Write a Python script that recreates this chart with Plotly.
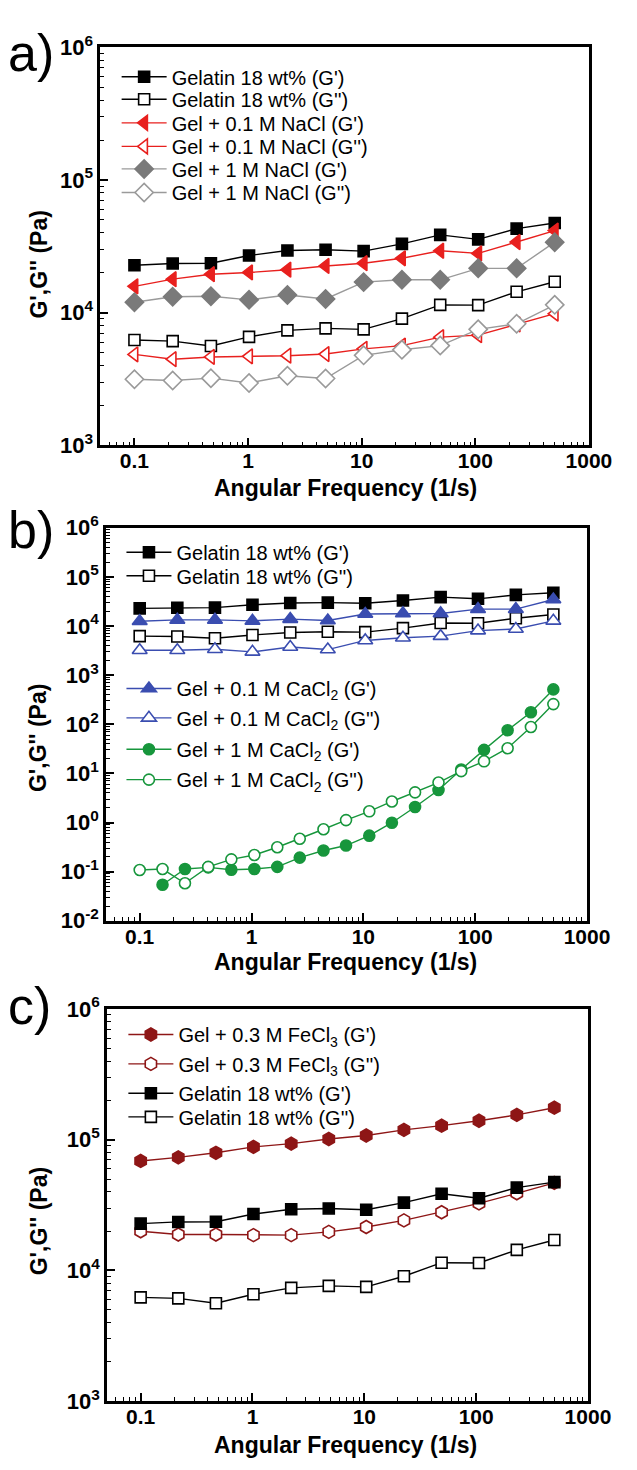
import plotly.graph_objects as go

# ---------------- data ----------------
freq = [0.1, 0.217, 0.471, 1.02, 2.22, 4.81, 10.4, 22.6, 49.1, 106, 231, 500]
freq_ca1 = [0.1, 0.16, 0.254, 0.41, 0.66, 1.06, 1.7, 2.7, 4.4, 7.0, 11.3, 18, 29, 47,
            75, 120, 195, 315, 500]

gel_Gp = [22800, 23500, 23600, 27000, 29400, 29800, 29100, 33000, 38600, 35700, 43000, 47400]
gel_Gpp = [6220, 6110, 5610, 6570, 7360, 7620, 7490, 9030, 11460, 11400, 14370, 17100]
nacl01_Gp = [15800, 17900, 19500, 20100, 21100, 22500, 23600, 25700, 29300, 28000, 34100, 41600]
nacl01_Gpp = [4850, 4460, 4640, 4690, 4740, 4880, 5340, 5650, 6540, 6770, 8160, 9840]
nacl1_Gp = [12000, 13200, 13300, 12500, 13600, 12700, 17000, 17700, 17700, 21600, 21600, 34000]
nacl1_Gpp = [3150, 3080, 3210, 2950, 3350, 3190, 4770, 5250, 5650, 7490, 8250, 11460]
cacl01_Gp = [12500, 13300, 13300, 12700, 13800, 12900, 17500, 18000, 18000, 22000, 22000, 34500]
cacl01_Gpp = [3210, 3210, 3360, 2970, 3740, 3310, 5080, 5740, 6200, 8050, 8700, 12700]
cacl1_Gp = [0.054, 0.113, 0.122, 0.109, 0.113, 0.125, 0.193, 0.27, 0.34, 0.54, 0.99, 2.07,
            4.58, 12.0, 30.1, 75.5, 175, 512]
cacl1_Gpp = [0.108, 0.113, 0.058, 0.125, 0.178, 0.218, 0.314, 0.468, 0.73, 1.12, 1.69, 2.68,
             4.11, 6.51, 11.1, 17.6, 32.5, 88, 257]
fecl_Gp = [68800, 73300, 79400, 88100, 93300, 101200, 107800, 118900, 128100, 139600, 154900, 175800]
fecl_Gpp = [19950, 18840, 18840, 18620, 18620, 19720, 21500, 24130, 27860, 32550, 38900, 46800]

x_tickvals = [0.1, 1, 10, 100, 1000]
x_ticktext = ["0.1", "1", "10", "100", "1000"]

# ---------------- styling ----------------
W, H = 637, 1470
FONT = "Liberation Sans"
BLACK = "#000000"
RED = "#e8201e"
GRAY_F = "#7a7a7a"
GRAY_O = "#9a9a9a"
BLUE = "#3a4db0"
GREEN = "#17963c"
DRED = "#8e1616"


def px_x(p):
    return p / W


def px_y(p):
    return 1 - p / H


fig = go.Figure()
legends = {}
ITEMW = 45
LEGFONT = dict(family=FONT, size=20, color="black")


def add(x, y, name, color, symbol, filled, xa, ya, leg_x, leg_y, size=11, lcolor=None):
    lc = lcolor or color
    n = len(legends) + 1
    key = "legend" if n == 1 else "legend%d" % n
    legends[key] = dict(
        x=px_x(leg_x - ITEMW - 10), y=px_y(leg_y), xanchor="left", yanchor="middle",
        bgcolor="rgba(0,0,0,0)", borderwidth=0, font=LEGFONT,
        itemwidth=ITEMW, visible=True,
    )
    fig.add_trace(go.Scatter(
        x=x, y=y, name=name, mode="lines+markers", showlegend=True,
        xaxis=xa, yaxis=ya, legend=key,
        line=dict(color=lc, width=1.4),
        marker=dict(symbol=symbol, size=size,
                    color=color if filled else "white",
                    line=dict(color=color, width=1.6)),
    ))


GP = "Gelatin 18 wt% (G')"
GPP = "Gelatin 18 wt% (G'')"

# panel a (legend text starts at x=176)
add(freq, gel_Gp, GP, BLACK, "square", True, "x", "y", 176, 62, 11)
add(freq, gel_Gpp, GPP, BLACK, "square", False, "x", "y", 176, 85, 11)
add(freq, nacl01_Gp, "Gel + 0.1 M NaCl (G')", RED, "triangle-left", True, "x", "y", 176, 109, 13)
add(freq, nacl01_Gpp, "Gel + 0.1 M NaCl (G'')", RED, "triangle-left", False, "x", "y", 176, 133, 13)
add(freq, nacl1_Gp, "Gel + 1 M NaCl (G')", GRAY_F, "diamond", True, "x", "y", 176, 156, 14, GRAY_O)
add(freq, nacl1_Gpp, "Gel + 1 M NaCl (G'')", GRAY_O, "diamond", False, "x", "y", 176, 180, 14)

# panel b
add(freq, gel_Gp, GP, BLACK, "square", True, "x2", "y2", 181, 547, 11)
add(freq, gel_Gpp, GPP, BLACK, "square", False, "x2", "y2", 181, 571, 11)
add(freq, cacl01_Gp, "Gel + 0.1 M CaCl<sub>2</sub> (G')", BLUE, "triangle-up", True, "x2", "y2", 181, 686, 13)
add(freq, cacl01_Gpp, "Gel + 0.1 M CaCl<sub>2</sub> (G'')", BLUE, "triangle-up", False, "x2", "y2", 181, 716, 13)
add(freq_ca1[1:], cacl1_Gp, "Gel + 1 M CaCl<sub>2</sub> (G')", GREEN, "circle", True, "x2", "y2", 181, 748, 11)
add(freq_ca1, cacl1_Gpp, "Gel + 1 M CaCl<sub>2</sub> (G'')", GREEN, "circle", False, "x2", "y2", 181, 779, 11)

# panel c
add(freq, fecl_Gp, "Gel + 0.3 M FeCl<sub>3</sub> (G')", DRED, "hexagon", True, "x3", "y3", 183, 1039, 13)
add(freq, fecl_Gpp, "Gel + 0.3 M FeCl<sub>3</sub> (G'')", DRED, "hexagon", False, "x3", "y3", 183, 1069, 13)
add(freq, gel_Gp, GP, BLACK, "square", True, "x3", "y3", 183, 1099, 11)
add(freq, gel_Gpp, GPP, BLACK, "square", False, "x3", "y3", 183, 1123, 11)

panels = [
    # (x0, x1, ytop, ybottom, ymin_exp, ymax_exp)
    (104, 611, 32, 438, 3, 6),
    (110, 609, 522, 923, -2, 6),
    (111, 610, 1013, 1413, 3, 6),
]

x_minor = [m * 10 ** e for e in range(-2, 3) for m in range(2, 10)]

xtickfont = dict(family=FONT, size=21, color="black", weight="bold")
ytickfont = dict(family=FONT, size=22, color="black", weight="bold")
layout = dict(
    width=W, height=H, margin=dict(l=0, r=0, t=0, b=0),
    paper_bgcolor="white", plot_bgcolor="white", showlegend=True,
    font=dict(family=FONT, color="black"),
)

for i, (x0, x1, yt, yb, e0, e1) in enumerate(panels):
    sfx = "" if i == 0 else str(i + 1)
    layout["xaxis" + sfx] = dict(
        type="log", domain=[px_x(x0), px_x(x1)], range=[-1.301, 3.0],
        anchor="y" + sfx, showgrid=False, zeroline=False,
        showline=True, linecolor="black", linewidth=2.5, mirror=True,
        ticks="inside", ticklen=8, tickwidth=1.6, tickcolor="black",
        tickvals=x_tickvals, ticktext=x_ticktext, tickfont=xtickfont,
        ticklabelstandoff=-5,
        minor=dict(tickmode="array", tickvals=x_minor, ticks="inside", ticklen=4,
                   tickwidth=1.2, tickcolor="black", showgrid=False),
    )
    exps = list(range(e0, e1 + 1))
    y_minor = [m * 10 ** e for e in range(e0, e1) for m in range(2, 10)]
    layout["yaxis" + sfx] = dict(
        type="log", domain=[px_y(yb), px_y(yt)], range=[e0, e1],
        anchor="x" + sfx, showgrid=False, zeroline=False,
        showline=True, linecolor="black", linewidth=2.5, mirror=True,
        ticks="inside", ticklen=8, tickwidth=1.6, tickcolor="black",
        tickvals=[10 ** e for e in exps],
        ticktext=["10<sup>%d</sup>" % e for e in exps], tickfont=ytickfont,
        minor=dict(tickmode="array", tickvals=y_minor, ticks="inside", ticklen=4,
                   tickwidth=1.2, tickcolor="black", showgrid=False),
    )

layout.update(legends)
fig.update_layout(**layout)

# axis titles and panel labels
titlefont = dict(family=FONT, size=23, color="black", weight="bold")
for (yc, xt_y, lab, lab_y) in [(254, 482, "a)", 38), (737, 965, "b)", 524), (1230, 1458, "c)", 1010)]:
    fig.add_annotation(x=px_x(40), y=px_y(yc), xref="paper", yref="paper",
                       text="G',G'' (Pa)", textangle=-90, showarrow=False,
                       font=titlefont, xanchor="center", yanchor="middle")
    fig.add_annotation(x=px_x(358), y=px_y(xt_y), xref="paper", yref="paper",
                       text="Angular Frequency (1/s)", showarrow=False,
                       font=titlefont, xanchor="center", yanchor="middle")
    fig.add_annotation(x=px_x(6), y=px_y(lab_y), xref="paper", yref="paper",
                       text=lab, showarrow=False,
                       font=dict(family=FONT, size=52, color="black"),
                       xanchor="left", yanchor="middle")

fig.write_html("out.html")
